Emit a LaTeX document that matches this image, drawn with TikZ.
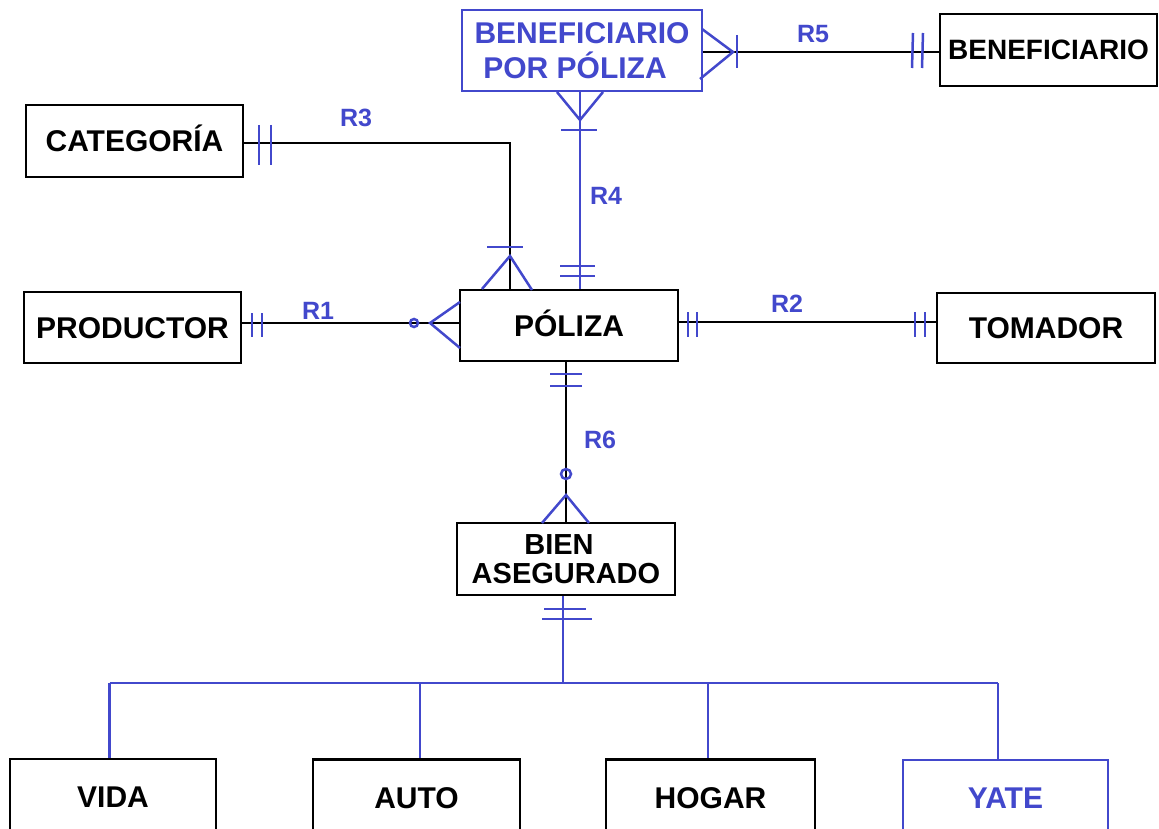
\documentclass[tikz,border=0pt]{standalone}
\usepackage{fontspec}
\setmainfont{Liberation Sans}
\usetikzlibrary{calc}
\definecolor{erblue}{RGB}{66,72,204}
\newcommand\entfont{\fontsize{30}{35}\selectfont\bfseries}
\newcommand\entsmall{\fontsize{28}{33}\selectfont\bfseries}
\newcommand\entpair{\fontsize{29}{29}\selectfont\bfseries}
\newcommand\relfont{\fontsize{25}{30}\selectfont\bfseries}
\begin{document}
\begin{tikzpicture}[x=1pt,y=-1pt,
  entbase/.style={draw=black, line width=2.2pt, inner sep=0pt, align=center, font=\entfont},
  ent/.style={entbase, text height=21.5pt, text depth=0pt},
  entblue/.style={ent, draw=erblue, text=erblue},
  rel/.style={text=erblue, font=\relfont, inner sep=0pt, text height=17.9pt, text depth=0pt},
  conn/.style={line width=2.5pt, draw=black},
  connblue/.style={line width=2.5pt, draw=erblue},
  card/.style={line width=2.5pt, draw=erblue},
]
\fill[white] (0,0) rectangle (1159,829);
\clip (0,0) rectangle (1159,829);

% entities
\node[entbase, draw=erblue, text=erblue, minimum width=240pt, minimum height=81pt] (bpp) at (582,50.5) {BENEFICIARIO\\POR PÓLIZA\hspace*{14pt}};
\node[ent, font=\entsmall, text height=20pt, minimum width=217pt, minimum height=72pt] (benef) at (1048.5,50) {BENEFICIARIO};
\node[ent, minimum width=217pt, minimum height=72pt] (cat) at (134.5,141) {CATEGORÍA};
\node[ent, minimum width=217pt, minimum height=71pt] (prod) at (132.5,327.5) {PRODUCTOR};
\node[ent, minimum width=218pt, minimum height=71pt] (pol) at (569,325.5) {PÓLIZA};
\node[ent, minimum width=218pt, minimum height=70pt] (tom) at (1046,328) {TOMADOR};
\node[entbase, font=\entpair, minimum width=218pt, minimum height=72pt] (bien) at (566,559) {BIEN\hspace*{14pt}\\ASEGURADO};
\node[ent, minimum width=206pt, minimum height=76pt] (vida) at (113,797) {VIDA};
\node[ent, minimum width=207pt, minimum height=76pt] (auto) at (416.5,797.5) {AUTO};
\node[ent, minimum width=209pt, minimum height=76pt] (hogar) at (710.5,797.5) {HOGAR};
\node[entblue, minimum width=205pt, minimum height=76pt] (yate) at (1005.5,798) {YATE};

% relationship labels
\node[rel] (lr1) at (318,311) {R1};
\node[rel] (lr2) at (787,304) {R2};
\node[rel] (lr3) at (356,118) {R3};
\node[rel] (lr4) at (606,196) {R4};
\node[rel] (lr5) at (813,34) {R5};
\node[rel] (lr6) at (600,440) {R6};

% helper coordinates for line heights / columns
\coordinate (y1) at (0,323);
\coordinate (y2) at (0,322);
\coordinate (y3) at (0,143);
\coordinate (x3) at (510,0);
\coordinate (x4) at (580,0);
\coordinate (y5) at (0,52);
\coordinate (x6) at (566,0);
\coordinate (x7) at (563,0);
\coordinate (bus) at (563,683);
\coordinate (busL) at (109.5,683);
\coordinate (busR) at (998,683);
\coordinate (dA) at (420,683);
\coordinate (dH) at (708,683);

% R1: PRODUCTOR -- PÓLIZA
\draw[conn] (prod.east |- y1) -- (pol.west |- y1);
\draw[card] (252,313) -- (252,337) (262,313) -- (262,337);
\draw[card] (414,323) circle (4);
\draw[card] (460,302) -- (430,323) -- (460,348);

% R2: PÓLIZA -- TOMADOR
\draw[conn] (pol.east |- y2) -- (tom.west |- y2);
\draw[card] (688,312) -- (688,337) (697,312) -- (697,337);
\draw[card] (915,312) -- (915,337) (925,312) -- (925,337);

% R3: CATEGORÍA -- PÓLIZA
\draw[conn] (cat.east |- y3) -- (x3 |- y3) -- (x3 |- pol.north);
\draw[card] (259,125) -- (259,165) (271,125) -- (271,165);
\draw[card] (487,247) -- (523,247);
\draw[card] (482,289) -- (510,256) -- (532,290);

% R4: BENEFICIARIO POR PÓLIZA -- PÓLIZA
\draw[connblue] (x4 |- bpp.south) -- (x4 |- pol.north);
\draw[card] (557,92) -- (580,120) -- (603,92);
\draw[card] (561,130) -- (597,130);
\draw[card] (560,266) -- (595,266) (560,276) -- (595,276);

% R5: BENEFICIARIO POR PÓLIZA -- BENEFICIARIO
\draw[conn] (bpp.east |- y5) -- (benef.west |- y5);
\draw[card] (702,29) -- (733,52) -- (700,79);
\draw[card] (737,35) -- (737,68);
\draw[card] (913,33) -- (912,68) (923,33) -- (922,68);

% R6: PÓLIZA -- BIEN ASEGURADO
\draw[conn] (x6 |- pol.south) -- (x6 |- bien.north);
\draw[card] (550,374) -- (582,374) (550,386) -- (582,386);
\draw[card] (566,474) circle (5);
\draw[card] (542,523) -- (566,495) -- (589,523);

% BIEN ASEGURADO specialisations
\draw[connblue] (x7 |- bien.south) -- (bus);
\draw[card] (544,609) -- (586,609) (542,619) -- (592,619);
\draw[connblue] (busL) -- (busR);
\draw[connblue] (busL) -- (busL |- vida.north);
\draw[connblue] (dA) -- (dA |- auto.north);
\draw[connblue] (dH) -- (dH |- hogar.north);
\draw[connblue] (busR) -- (busR |- yate.north);
\end{tikzpicture}
\end{document}
